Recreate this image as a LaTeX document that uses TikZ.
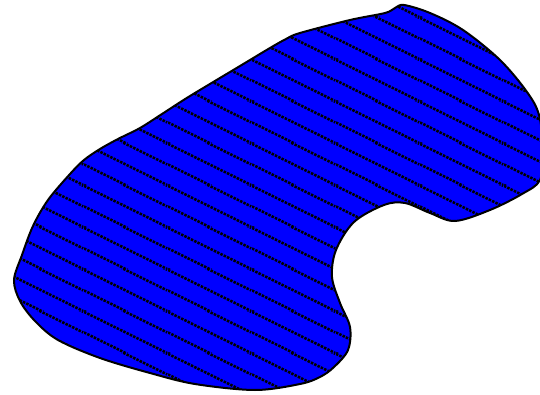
\documentclass[tikz,border=0pt]{standalone}
\usetikzlibrary{patterns.meta}

\tikzdeclarepattern{
  name=slantlines,
  type=uncolored,
  bottom left={(0pt,0pt)},
  top right={(84pt,42pt)},
  tile size={(84pt,42pt)},
  code={
    \pgfsetlinewidth{2.6pt}
    \pgfsetdash{{2.5pt}{1.2pt}}{0pt}
    \foreach \b in {0,21,42,63,84}{
      \pgfpathmoveto{\pgfpoint{0pt}{\b pt}}
      \pgfpathlineto{\pgfpoint{84pt}{\b pt-42pt}}
    }
    \pgfusepath{stroke}
  }
}

\begin{document}
\begin{tikzpicture}[x=1pt,y=-1pt]
\useasboundingbox (0,0) rectangle (540,395);
\clip (0,0) rectangle (540,395); % The blob touches the right edge.

\draw[line width=2pt,fill=blue,postaction={pattern=slantlines,pattern color=black}]
  plot[smooth cycle,tension=0.55] coordinates {
    (14,280) (22,255) (33,226) (48,200) (70,174) (84,160) (100,149) (118,139)
    (140,128) (162,114) (190,96) (240,66) (270,48) (286,39) (300,33) (350,20)
    (385,13) (395,8) (404,5) (430,13) (463,30) (500,60) (527,92) (539,115)
    (543,150) (540,180) (522,194) (490,210) (455,221) (430,213) (405,203)
    (384,205) (354,222) (336,250) (332,277) (340,303) (350,327) (348,350)
    (334,367) (320,377) (300,384) (255,390) (195,384) (150,373) (100,358)
    (58,340) (35,321) (20,301)};
\end{tikzpicture}
\end{document}
